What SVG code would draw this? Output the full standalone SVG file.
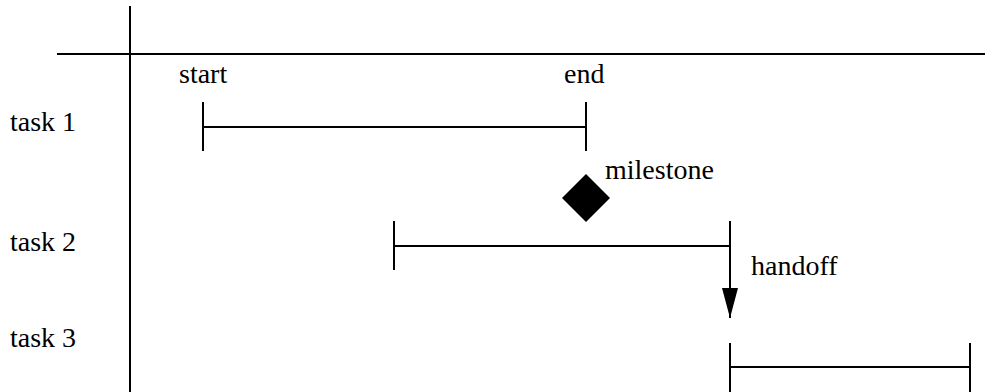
<svg xmlns="http://www.w3.org/2000/svg" width="985" height="392" viewBox="0 0 985 392">
  <style>
    .ln { stroke: #000; stroke-width: 2; fill: none; }
    text { font-family: Liberation Serif; font-size: 28px; fill: #000; }
  </style>
  <defs>
    <marker id="arrow" viewBox="0 0 30 16" refX="30" refY="8" markerWidth="30" markerHeight="16" markerUnits="userSpaceOnUse" orient="auto">
      <path d="M0,0 L30,8 L0,16 Z" fill="#000"/>
    </marker>
  </defs>
  <rect width="985" height="392" fill="#fff"/>

  <!-- axes -->
  <g id="axes">
    <line class="ln" x1="130" y1="6" x2="130" y2="392"/>
    <line class="ln" x1="57" y1="54" x2="985" y2="54"/>
  </g>

  <!-- row and column labels -->
  <g id="labels">
    <text x="10" y="131" font-family="Liberation Serif">task 1</text>
    <text x="10" y="251" font-family="Liberation Serif">task 2</text>
    <text x="10" y="347" font-family="Liberation Serif">task 3</text>
    <text x="179" y="83" font-family="Liberation Serif">start</text>
    <text x="564" y="83" font-family="Liberation Serif">end</text>
  </g>

  <g id="task1">
    <line class="ln" x1="203" y1="102" x2="203" y2="151"/>
    <line class="ln" x1="203" y1="127" x2="586" y2="127"/>
    <line class="ln" x1="586" y1="102" x2="586" y2="151"/>
  </g>

  <g id="milestone">
    <path d="M586,174 L610,198 L586,222 L562,198 Z" fill="#000"/>
    <text x="605" y="179" font-family="Liberation Serif">milestone</text>
  </g>

  <g id="task2">
    <line class="ln" x1="394" y1="221" x2="394" y2="270"/>
    <line class="ln" x1="394" y1="246" x2="730" y2="246"/>
    <line class="ln" x1="730" y1="221" x2="730" y2="246"/>
  </g>

  <g id="task3">
    <line class="ln" x1="730" y1="343" x2="730" y2="392"/>
    <line class="ln" x1="730" y1="367" x2="970" y2="367"/>
    <line class="ln" x1="970" y1="343" x2="970" y2="392"/>
  </g>

  <!-- connectors -->
  <g id="connectors">
    <line class="ln" x1="730" y1="246" x2="730" y2="318" marker-end="url(#arrow)"/>
    <text x="751" y="275" font-family="Liberation Serif">handoff</text>
  </g>
</svg>
